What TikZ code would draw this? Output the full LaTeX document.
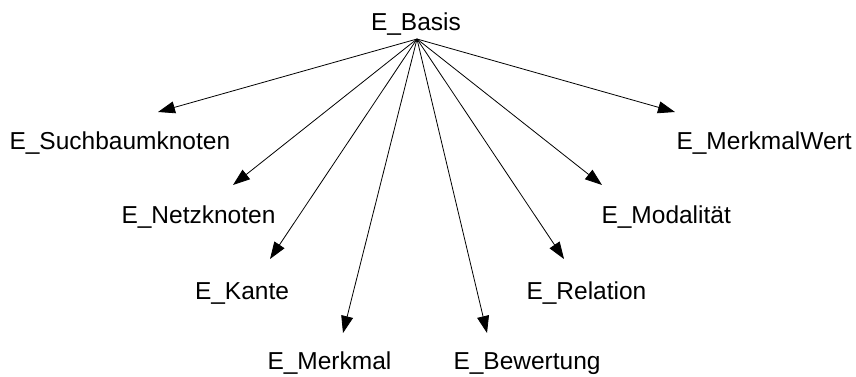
\documentclass[tikz,border=0pt]{standalone}
\usepackage{fontspec}
\setmainfont{Liberation Sans}
\usetikzlibrary{arrows.meta}
\begin{document}
\begin{tikzpicture}[x=1pt,y=-1pt,
  label/.style={inner sep=0pt,outer sep=0pt,anchor=base west,
    font=\fontsize{24.5}{28}\selectfont},
  link/.style={line width=0.8pt,-{Triangle[length=17pt,width=12pt]}}]
\useasboundingbox (0,0) rectangle (856,376);

% class names
\node[label] (basis) at (371,30.5) {E\_Basis};
\node[label] (such)  at (9.5,149.3) {E\_Suchbaumknoten};
\node[label] (netz)  at (121.5,223) {E\_Netzknoten};
\node[label] (kante) at (195,299.3) {E\_Kante};
\node[label] (merk)  at (267.5,369.3) {E\_Merkmal};
\node[label] (bew)   at (453.5,369.3) {E\_Bewertung};
\node[label] (rel)   at (526.5,299.3) {E\_Relation};
\node[label] (moda)  at (601.5,223) {E\_Modalität};
\node[label] (mwert) at (676.5,149.3) {E\_MerkmalWert};

% common origin of the inheritance arrows
\coordinate (hub) at (417,39);

% arrow tips above each derived class
\coordinate (tsuch)  at (158,112);
\coordinate (tnetz)  at (233,185);
\coordinate (tkante) at (270,259);
\coordinate (tmerk)  at (343,333);
\coordinate (tbew)   at (487,333);
\coordinate (trel)   at (564,259);
\coordinate (tmoda)  at (602,185);
\coordinate (tmwert) at (675,112);

\foreach \t in {tsuch,tnetz,tkante,tmerk,tbew,trel,tmoda,tmwert}
  \draw[link] (hub) -- (\t);
\end{tikzpicture}
\end{document}
